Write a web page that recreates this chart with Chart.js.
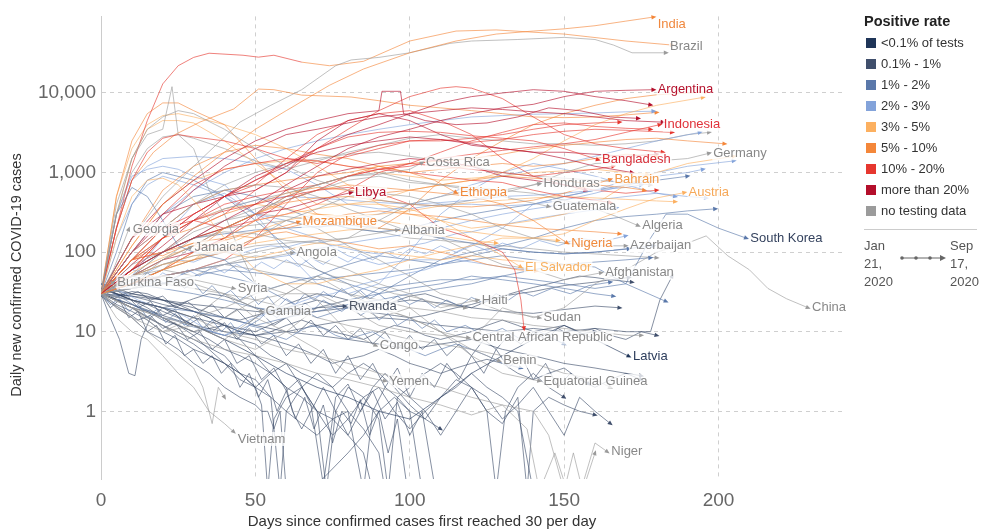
<!DOCTYPE html>
<html>
<head>
<meta charset="utf-8">
<script src="https://cdn.jsdelivr.net/npm/chart.js@4"></script>
<style>
  html, body { margin: 0; padding: 0; background: #fff; }
  body { width: 982px; height: 532px; position: relative; overflow: hidden; font-family: "Liberation Sans", Arial, sans-serif; }
  #chart { position: absolute; left: 0; top: 0; }
  #legend { position: absolute; left: 864px; top: 11px; width: 118px; color: #333; }
  #legend .lt { font-weight: bold; font-size: 14.5px; line-height: 20px; margin-bottom: 1px; color: #222; }
  #legend .li { font-size: 13px; line-height: 21px; height: 21px; white-space: nowrap; }
  #legend .li span { display: inline-block; width: 10px; height: 10px; margin: 0 5px 0 2px; vertical-align: -1px; }
  #legend hr { border: 0; border-top: 1px solid #ccc; margin: 8px 0 0 0; width: 113px; }
  #legend .tl { position: relative; height: 60px; font-size: 13px; line-height: 18px; color: #555; }
  #legend .tl .a { position: absolute; left: 0; top: 7px; }
  #legend .tl .b { position: absolute; left: 86px; top: 7px; }
  #legend .tl svg { position: absolute; left: 36px; top: 23px; }
</style>
</head>
<body>
<canvas id="chart" width="982" height="532"></canvas>
<div id="legend">
  <div class="lt">Positive rate</div>
  <div class="li"><span style="background:#1f3558"></span>&lt;0.1% of tests</div>
  <div class="li"><span style="background:#404f6c"></span>0.1% - 1%</div>
  <div class="li"><span style="background:#5a78aa"></span>1% - 2%</div>
  <div class="li"><span style="background:#83a3da"></span>2% - 3%</div>
  <div class="li"><span style="background:#fcb060"></span>3% - 5%</div>
  <div class="li"><span style="background:#f4873a"></span>5% - 10%</div>
  <div class="li"><span style="background:#e6372f"></span>10% - 20%</div>
  <div class="li"><span style="background:#b40f2b"></span>more than 20%</div>
  <div class="li"><span style="background:#9b9b9b"></span>no testing data</div>
  <hr>
  <div class="tl">
    <div class="a">Jan<br>21,<br>2020</div>
    <svg width="50" height="10">
      <line x1="2" y1="5" x2="44" y2="5" stroke="#666" stroke-width="1"/>
      <circle cx="2" cy="5" r="1.8" fill="#666"/><circle cx="16" cy="5" r="1.8" fill="#666"/><circle cx="30" cy="5" r="1.8" fill="#666"/>
      <path d="M40 2 L46 5 L40 8 Z" fill="#666"/>
    </svg>
    <div class="b">Sep<br>17,<br>2020</div>
  </div>
</div>
<script>
// day since first 30/day, 7-day avg of new cases
const dayTicks = [0, 50, 100, 150, 200];
const caseTicks = [1, 10, 100, 1000, 10000];

// labelled countries, [day, cases]
const india = [[0,30],[10,120],[20,400],[30,900],[40,1800],[50,3500],[60,6000],[74,12500],[85,20000],[100,32000],[115,45000],[128,55000],[140,60000],[150,64000],[160,70000],[170,80000],[179,90000]];
const brazil = [[0,30],[10,150],[20,500],[30,1200],[40,2800],[45,4300],[55,7000],[65,11000],[76,22000],[81,26000],[90,28000],[100,32000],[113,42000],[120,45000],[135,47000],[150,50000],[160,47000],[166,40000],[172,32000],[183,32000]];
const argentina = [[0,30],[10,60],[20,100],[30,150],[40,250],[50,400],[60,700],[70,1200],[80,2000],[90,2800],[100,3500],[110,4500],[120,5500],[130,6500],[140,7200],[150,9000],[160,10500],[170,10800],[179,11000]];
const indonesia = [[0,30],[10,60],[20,150],[30,250],[40,330],[50,400],[60,500],[70,600],[80,900],[90,1100],[100,1200],[110,1500],[120,1700],[130,1900],[140,2100],[150,2300],[160,2600],[170,3200],[181,4000]];
const germany = [[0,30],[5,300],[10,1500],[15,3500],[20,5000],[25,6000],[30,5500],[40,3500],[50,2000],[60,1200],[70,800],[80,600],[90,450],[100,400],[110,380],[120,450],[130,550],[140,700],[150,1000],[160,1300],[170,1350],[180,1400],[190,1500],[197,1750]];
const bangladesh = [[0,30],[10,60],[20,150],[30,300],[40,500],[50,800],[60,1300],[70,2000],[80,2800],[90,3200],[100,3300],[110,3200],[120,2900],[130,2700],[140,2500],[150,2000],[161,1450]];
const bahrain = [[0,30],[10,40],[20,60],[30,100],[40,200],[50,300],[60,420],[70,480],[80,500],[90,450],[100,400],[110,380],[120,370],[130,400],[140,450],[150,550],[165,820]];
const austria = [[0,30],[5,150],[10,500],[15,800],[20,850],[25,700],[30,450],[40,150],[50,60],[60,40],[70,40],[80,50],[90,60],[100,80],[110,100],[120,120],[130,150],[140,150],[150,170],[160,250],[170,350],[180,480],[189,560]];
const algeria = [[0,30],[10,70],[20,100],[30,150],[40,180],[50,170],[60,140],[70,130],[80,150],[90,250],[100,400],[110,500],[120,600],[130,600],[140,550],[150,450],[160,350],[167,280],[174,215]];
const southKorea = [[0,30],[5,300],[10,650],[15,500],[20,250],[25,120],[30,100],[40,80],[50,40],[60,25],[70,15],[80,20],[90,35],[100,40],[110,45],[120,45],[130,50],[140,45],[150,40],[160,35],[170,40],[178,150],[183,300],[190,300],[200,200],[209,150]];
const china = [[0,30],[5,400],[10,1500],[15,3000],[20,3500],[23,12000],[25,3000],[30,2000],[35,600],[40,300],[45,100],[50,40],[60,30],[70,50],[80,40],[90,20],[100,15],[110,10],[120,8],[130,20],[140,15],[150,20],[160,40],[170,60],[180,100],[190,130],[196,160],[203,90],[210,60],[216,35],[222,26],[229,20]];
const costaRica = [[0,30],[10,50],[20,100],[30,200],[40,350],[50,450],[60,550],[70,700],[80,900],[90,950],[100,1100],[104,1330]];
const honduras = [[0,30],[10,60],[20,100],[30,150],[40,250],[50,350],[60,450],[70,600],[80,800],[90,900],[100,750],[110,700],[120,650],[130,600],[142,720]];
const guatemala = [[0,30],[10,50],[20,80],[30,120],[40,200],[50,300],[60,500],[70,700],[80,900],[90,1000],[100,800],[110,700],[120,600],[130,500],[145,375]];
const libya = [[0,30],[10,60],[20,100],[30,150],[40,200],[50,300],[60,350],[70,450],[81,560]];
const ethiopia = [[0,30],[10,80],[20,100],[30,150],[40,200],[50,300],[60,500],[70,700],[80,900],[90,1200],[100,1000],[108,800],[115,560]];
const mozambique = [[0,30],[10,40],[20,60],[30,80],[40,100],[50,150],[57,200],[64,240]];
const albania = [[0,30],[10,50],[20,70],[30,90],[40,100],[50,120],[60,130],[70,140],[80,150],[96,190]];
const nigeria = [[0,30],[10,80],[20,150],[30,200],[40,300],[50,400],[60,550],[70,650],[80,600],[90,550],[100,600],[110,550],[120,500],[130,400],[140,250],[151,130]];
const azerbaijan = [[0,30],[10,50],[20,60],[30,80],[40,100],[50,150],[60,250],[70,350],[80,500],[90,550],[100,500],[110,400],[120,300],[130,200],[140,150],[150,130],[160,120],[170,120]];
const elSalvador = [[0,30],[10,50],[20,70],[30,80],[40,150],[50,250],[60,300],[70,350],[80,400],[90,400],[100,350],[110,250],[120,150],[130,90],[136,65]];
const afghanistan = [[0,30],[10,100],[20,200],[30,400],[40,600],[50,700],[60,650],[70,500],[80,350],[90,250],[100,180],[110,150],[120,100],[130,70],[140,60],[150,45],[162,55]];
const georgia = [[0,30],[4,60],[9,195]];
const jamaica = [[0,30],[10,40],[20,60],[29,115]];
const angola = [[0,30],[10,40],[20,50],[30,60],[40,70],[50,80],[62,98]];
const burkinaFaso = [[0,32],[4,42]];
const syria = [[0,30],[10,35],[20,40],[30,45],[43,35]];
const gambia = [[0,30],[10,45],[20,50],[30,40],[40,30],[52,18]];
const rwanda = [[0,35],[10,25],[20,20],[30,15],[40,12],[50,10],[60,15],[70,20],[79,21]];
const haiti = [[0,30],[10,35],[20,50],[30,60],[40,80],[50,100],[60,120],[70,80],[80,60],[90,40],[100,30],[110,20],[122,25]];
const sudan = [[0,30],[10,40],[20,80],[30,150],[40,200],[50,220],[60,250],[70,200],[80,120],[90,80],[100,50],[110,30],[120,25],[130,18],[142,15]];
const centralAfrica = [[0,30],[10,20],[20,15],[30,10],[40,15],[50,25],[60,30],[70,30],[80,20],[90,12],[100,10],[110,9],[119,8.4]];
const congo = [[0,30],[10,25],[20,20],[30,15],[40,20],[50,30],[60,40],[70,25],[80,10],[89,6.7]];
const benin = [[0,30],[10,15],[20,10],[30,12],[40,8],[50,15],[60,30],[70,50],[80,30],[90,20],[100,15],[110,10],[120,6],[129,4.3]];
const latvia = [[0,35],[5,30],[10,25],[20,20],[30,12],[40,8],[50,5],[60,3],[70,2],[80,1.5],[90,1],[100,0.8],[110,1.5],[120,3],[130,5],[140,8],[150,12],[160,8],[171,4.9]];
const yemen = [[0,30],[10,20],[20,15],[30,12],[40,8],[50,6],[60,10],[70,6],[80,3],[92,2.4]];
const eqGuinea = [[0,30],[10,20],[20,10],[30,15],[40,30],[50,15],[60,10],[70,20],[80,25],[90,15],[100,20],[110,10],[120,5],[130,3],[142,2.4]];
const vietnam = [[0,30],[5,15],[10,10],[15,8],[20,5],[25,3],[30,2],[35,1],[40,0.7],[43,0.55]];
const niger = [[0,30],[10,20],[20,12],[30,8],[40,6],[50,5],[60,4],[70,3],[80,2.5],[90,2],[100,1.5],[110,1.2],[120,0.9],[130,1.2],[138,0.6],[142,0.1],[147,0.3],[151,0.1],[156,0.12],[160,0.4],[164,0.31]];
const usa = [[0,30],[5,200],[10,1200],[15,4500],[20,13000],[25,22000],[30,28000],[35,31600],[46,29800],[51,28200],[56,29800],[65,24400],[74,22000],[85,25000],[100,45000],[115,60000],[128,62000],[150,55000],[170,45000],[185,40000]];

// unlabelled countries grouped by positive rate
const over20 = [
  [[0,30],[10,80],[20,150],[30,300],[40,500],[50,800],[60,1200],[70,2000],[80,3000],[90,4000],[100,5500],[110,7500],[120,9000],[130,10000],[140,11000],[150,10500],[160,9000],[170,8000],[178,7100]],
  [[0,30],[10,100],[20,250],[30,600],[40,1200],[50,2000],[60,3000],[70,3500],[80,4200],[90,5000],[100,5500],[110,6000],[120,6500],[130,6200],[140,5800],[150,5500],[160,5000],[170,4500],[182,4300]],
  [[0,30],[10,150],[20,400],[30,800],[40,1500],[50,2500],[60,3500],[70,4500],[80,5500],[90,6000],[91,10500],[97,10500],[98,5500],[105,4500],[115,4000],[125,4200],[135,5000],[145,6500],[155,6000],[165,5000],[174,4800]],
  [[0,30],[10,150],[20,300],[30,400],[40,500],[50,600],[60,1000],[70,2500],[80,4500],[90,5500],[100,4500],[110,3000],[120,2200],[130,2000],[140,1800],[150,1800],[160,1700],[170,1600],[180,1700]],
  [[0,30],[10,60],[20,120],[30,250],[40,500],[50,900],[60,1300],[70,1800],[80,2200],[90,2500],[100,2800],[110,2600],[120,2300],[130,2000],[140,1800],[150,1500],[160,1200],[172,1000]],
  [[0,30],[10,50],[20,80],[30,100],[40,150],[50,300],[60,600],[70,900],[80,1100],[90,1300],[100,1500],[110,1400],[120,1200],[130,900],[140,800],[150,700],[157,600]]
];
const rate10to20 = [
  [[0,30],[5,200],[10,800],[15,1800],[20,2700],[25,3000],[30,2800],[40,2500],[50,2000],[60,1500],[70,1300],[80,1600],[90,2000],[100,2500],[110,2600],[120,2400],[130,2600],[140,3000],[150,3300],[160,3500],[170,3400],[185,3200]],
  [[0,30],[10,80],[20,100],[30,200],[40,300],[50,600],[60,1000],[70,2000],[80,3500],[90,6000],[100,9000],[110,11500],[115,12000],[120,11500],[130,8500],[140,5000],[150,3000],[160,2300],[170,2000],[182,1800]],
  [[0,30],[10,100],[20,200],[30,250],[40,200],[50,250],[60,300],[70,400],[80,600],[90,1000],[100,1300],[110,1800],[120,2500],[130,3200],[140,4000],[150,4200],[160,3800],[170,3600],[178,3500]],
  [[0,30],[10,40],[20,50],[30,60],[40,80],[50,150],[60,400],[70,1000],[80,1700],[90,2200],[100,2500],[110,2500],[120,2700],[130,3000],[140,3500],[150,4000],[160,4200],[168,4300]],
  [[0,30],[10,80],[20,200],[30,300],[40,500],[50,700],[60,1500],[70,3000],[80,4500],[90,5500],[100,6000],[110,4500],[120,3000],[130,1500],[140,900],[150,700],[160,600],[170,550],[180,600]],
  [[0,30],[10,70],[20,150],[30,250],[40,400],[50,500],[60,600],[70,700],[80,900],[90,1100],[100,1300],[110,1200],[120,1100],[130,1000],[140,900],[150,1000],[160,1100],[166,1200]],
  [[0,30],[10,40],[20,60],[30,100],[40,150],[50,250],[60,450],[70,600],[80,650],[90,550],[100,400],[110,200],[120,150],[130,100],[134,60],[136,25],[137,11]],
  [[0,30],[10,100],[20,300],[30,700],[40,1100],[50,1300],[60,1500],[70,1400],[80,1200],[90,1100],[100,1000],[110,900],[120,800],[130,750],[140,600],[150,500],[160,450],[165,420]]
];
const rate5to10 = [
  [[0,30],[5,200],[10,800],[17,1800],[24,3000],[32,4300],[43,6300],[51,11200],[56,11000],[65,9400],[81,8900],[90,8000],[100,7000],[110,6500],[120,6000],[130,5500],[140,5000],[150,4900],[160,5000],[170,5300],[180,5700]],
  [[0,30],[5,500],[10,2500],[15,5500],[20,7500],[25,7500],[30,6000],[40,4000],[50,1500],[60,600],[70,300],[80,250],[90,200],[100,350],[110,800],[120,1500],[130,2500],[140,4000],[150,5500],[160,7000],[170,8500],[180,9500],[196,10300]],
  [[0,30],[10,150],[20,600],[30,1200],[40,1800],[50,2200],[60,2000],[70,1700],[80,1500],[90,1200],[100,1000],[110,1100],[120,1200],[130,1300],[140,1200],[150,1300],[160,1500],[170,1700],[180,1600]],
  [[0,30],[10,80],[20,200],[30,400],[40,600],[50,700],[60,800],[70,900],[80,1000],[90,1200],[100,1300],[110,1400],[120,1500],[130,1700],[140,2000],[150,2200],[160,2400],[170,2600],[180,2700],[190,2500],[202,2300]],
  [[0,30],[10,50],[20,80],[30,120],[40,200],[50,300],[60,450],[70,600],[80,700],[90,650],[100,600],[110,700],[120,800],[130,900],[140,850],[150,800],[160,700],[170,650],[176,600]],
  [[0,30],[10,60],[20,100],[30,130],[40,150],[50,180],[60,200],[70,250],[80,300],[90,330],[100,300],[110,280],[120,250],[130,220],[140,200],[150,190],[160,180],[168,170]],
  [[0,30],[5,50],[10,80],[15,100],[20,90],[25,110],[30,130],[35,120],[40,140],[45,160],[50,150],[55,170],[60,180],[65,160],[70,150],[75,140],[80,130],[85,120],[90,110],[95,115],[100,120],[105,110],[110,100],[115,90],[120,80],[125,70],[130,65],[135,60],[141,58]]
];
const rate3to5 = [
  [[0,30],[5,300],[10,1500],[15,3500],[20,4500],[25,4500],[30,4200],[40,2500],[50,1300],[60,700],[70,400],[80,400],[90,450],[100,600],[110,700],[120,800],[130,1000],[140,1500],[150,2500],[160,4000],[170,5500],[180,7000],[195,8800]],
  [[0,30],[5,500],[10,2000],[15,4000],[20,5200],[25,5500],[30,5000],[40,4000],[50,3000],[60,2000],[70,1200],[80,700],[90,400],[100,300],[110,250],[120,200],[130,220],[140,250],[150,300],[160,400],[170,700],[180,1000],[190,1300],[205,1600]],
  [[0,30],[10,120],[20,400],[30,800],[40,1100],[50,1300],[60,1400],[70,1400],[80,1200],[90,1000],[100,900],[110,800],[120,850],[130,900],[140,1000],[150,1050],[160,1100],[170,1000],[177,950]],
  [[0,30],[10,60],[20,150],[30,250],[40,350],[50,400],[60,350],[70,300],[80,280],[90,300],[100,330],[110,380],[120,420],[130,450],[140,480],[150,500],[160,480],[170,460],[180,440],[186,430]],
  [[0,30],[10,40],[20,60],[30,80],[40,120],[50,180],[60,250],[70,300],[80,280],[90,250],[100,220],[110,200],[120,180],[130,160],[140,150],[148,140]],
  [[0,30],[10,50],[20,70],[30,90],[40,110],[50,130],[60,150],[70,170],[80,190],[90,200],[100,180],[110,160],[120,140],[128,130]],
  [[0,30],[5,40],[10,55],[15,70],[20,85],[25,100],[30,120],[35,110],[40,100],[45,90],[50,85],[55,95],[60,105],[65,120],[70,130],[75,125],[80,115],[85,105],[90,100],[95,95],[100,90],[105,85],[110,80],[115,85],[120,90],[125,85],[130,80],[140,75],[150,70],[157,68]]
];
const rate2to3 = [
  [[0,30],[5,300],[10,900],[15,1100],[20,1200],[25,1100],[30,900],[40,700],[50,300],[60,200],[70,150],[80,90],[90,70],[100,80],[110,80],[120,120],[130,200],[140,400],[150,500],[160,600],[170,800],[180,1000],[190,1200],[205,1400]],
  [[0,30],[5,200],[10,800],[15,1200],[20,1500],[30,1600],[40,1500],[50,1300],[60,1100],[70,700],[80,400],[90,350],[100,350],[110,400],[120,400],[130,380],[140,400],[150,450],[160,550],[170,700],[180,900],[190,1000],[195,1100]],
  [[0,30],[10,50],[20,150],[30,400],[40,550],[50,300],[60,100],[70,40],[80,30],[90,40],[100,100],[110,300],[120,600],[130,1000],[140,1300],[150,1100],[160,900],[170,700],[180,550],[190,500],[196,480]],
  [[0,30],[10,70],[20,150],[30,250],[40,350],[50,450],[60,500],[70,480],[80,450],[90,420],[100,400],[110,420],[120,450],[130,500],[140,520],[150,550],[160,600],[170,650],[175,700]],
  [[0,30],[10,40],[20,50],[30,60],[40,70],[50,80],[60,90],[70,110],[80,130],[90,150],[100,170],[110,200],[120,250],[130,300],[140,350],[150,400],[160,450],[170,500],[180,550],[186,500]],
  [[0,30],[5,150],[10,400],[15,700],[20,900],[30,700],[40,500],[50,300],[60,250],[70,200],[80,250],[90,300],[100,400],[110,500],[120,700],[130,900],[140,1100],[150,1300],[160,1600],[170,2000],[180,2500],[194,3200]],
  [[0,30],[10,100],[20,300],[30,600],[40,1000],[50,1500],[60,2000],[70,2500],[80,3000],[90,3500],[100,4000],[110,4500],[120,5000],[130,5200],[140,5400],[150,5500],[160,5600],[170,5800],[179,5900]],
  [[0,30],[5,45],[10,60],[15,55],[20,70],[25,80],[30,75],[35,90],[40,100],[45,95],[50,110],[55,120],[60,115],[65,130],[70,140],[75,120],[80,110],[85,100],[90,95],[95,105],[100,120],[105,130],[110,150],[115,170],[120,180],[125,200],[130,220],[135,240],[140,260],[145,280],[150,300],[155,320],[160,340],[167,360]],
  [[0,30],[4,35],[8,30],[12,25],[16,22],[20,20],[24,18],[28,15],[32,12],[36,10],[40,9],[44,11],[48,14],[52,16],[56,18],[60,20],[65,24],[70,28],[75,30],[80,35],[85,40],[90,45],[95,50],[100,55],[105,60],[110,70],[115,80],[120,75],[125,70],[130,65],[138,60]],
  [[0,30],[4,40],[8,35],[12,48],[16,40],[20,55],[24,45],[28,60],[32,50],[36,65],[40,55],[44,70],[48,58],[52,75],[56,62],[60,80],[64,66],[68,85],[72,70],[76,90],[80,75],[84,95],[88,80],[92,100],[96,85],[100,110],[105,95],[110,120],[115,100],[120,125],[125,105],[130,130],[136,110],[142,140],[148,120],[155,150],[162,135],[170,160]]
];
const rate1to2 = [
  [[0,30],[5,100],[10,400],[15,800],[20,1000],[30,800],[40,500],[50,250],[60,120],[70,60],[80,40],[90,30],[100,50],[110,80],[120,100],[130,120],[140,150],[150,200],[160,250],[170,280],[180,300],[190,330],[199,350]],
  [[0,30],[10,60],[20,100],[30,150],[40,170],[50,190],[60,200],[70,210],[80,220],[90,200],[100,180],[110,150],[120,130],[130,110],[140,100],[150,95],[160,100],[170,110],[179,120]],
  [[0,30],[10,35],[20,40],[30,50],[40,60],[50,55],[60,50],[70,45],[80,50],[90,55],[100,60],[110,70],[120,80],[130,90],[140,80],[150,70],[160,75],[170,80],[178,85]],
  [[0,35],[10,40],[20,35],[30,30],[40,25],[50,20],[60,18],[70,20],[80,25],[90,30],[100,35],[110,40],[120,50],[130,45],[140,40],[150,35],[160,30],[166,28]],
  [[0,30],[10,100],[20,300],[30,500],[40,600],[50,500],[60,350],[70,250],[80,200],[90,180],[100,200],[110,250],[120,300],[130,350],[140,400],[150,500],[160,600],[170,700],[180,800],[190,900]],
  [[0,30],[10,25],[20,20],[30,18],[40,15],[50,12],[60,15],[70,18],[80,22],[90,25],[100,30],[110,35],[120,40],[130,50],[140,60],[150,70],[160,65],[170,40],[183,24]],
  [[0,35],[5,40],[10,50],[15,45],[20,40],[25,50],[30,60],[35,55],[40,50],[45,45],[50,40],[55,35],[60,40],[65,45],[70,50],[75,60],[80,70],[85,80],[90,90],[95,85],[100,80],[105,75],[110,70],[115,80],[120,90],[125,100],[130,110],[135,105],[140,100],[150,95],[160,100],[171,110]],
  [[0,40],[4,30],[8,25],[12,20],[16,18],[20,15],[24,14],[28,12],[32,11],[36,10],[40,9],[44,10],[48,12],[52,11],[56,9],[60,8],[64,10],[68,12],[72,11],[76,9],[80,8],[84,9],[88,10],[92,8],[96,7],[100,6],[105,5],[110,6],[115,7],[120,6],[125,5],[130,4],[136,3.5]],
  [[0,35],[3,45],[6,38],[9,50],[12,42],[15,55],[18,45],[21,40],[24,48],[27,35],[30,42],[33,30],[36,38],[39,28],[42,33],[45,25],[48,30],[51,22],[54,28],[57,20],[60,26],[63,22],[66,30],[69,25],[72,32],[75,27],[78,35],[81,28],[84,33],[87,26],[90,30],[93,24],[96,28],[100,22],[104,26],[108,20],[112,25],[116,21],[120,27],[124,23],[128,30],[132,25],[136,32],[140,28],[146,35],[152,30],[158,38],[165,42]],
  [[0,30],[3,22],[6,26],[9,18],[12,22],[15,15],[18,19],[21,13],[24,17],[27,12],[30,16],[33,11],[36,14],[39,10],[42,13],[45,9],[48,12],[51,14],[54,18],[57,15],[60,20],[63,17],[66,23],[69,19],[72,25],[75,21],[78,18],[81,22],[84,16],[87,19],[90,14],[93,17],[96,12],[100,15],[104,11],[108,14],[112,10],[118,12],[124,9],[130,11],[136,8],[142,10],[150,7]]
];
const rate01to1 = [
  [[0,35],[5,25],[10,20],[15,15],[20,12],[25,9],[30,7],[35,5],[40,4],[45,3],[50,2.5],[55,1.5],[60,1],[65,0.7],[70,0.5],[75,0.8],[80,1],[85,0.6],[90,0.3],[92,0.1]],
  [[0,40],[5,30],[10,25],[15,20],[20,15],[25,12],[30,10],[35,8],[40,6],[45,5],[50,4],[55,3],[60,2],[62,1],[65,0.6],[68,1],[72,2],[76,1],[80,0.5],[84,1],[88,2],[92,3],[96,2],[100,1.5],[105,1],[110,0.5],[115,1],[120,2],[125,1.5],[130,0.8],[135,1.2],[140,2],[145,1],[150,0.5],[155,1.5],[160,1],[165,0.7]],
  [[0,30],[5,20],[10,15],[15,10],[20,8],[25,6],[30,4],[35,3],[40,2],[45,1.5],[50,1.2],[52,1],[54,1],[56,0.6],[58,1],[60,0.1],[68,0.1],[80,0.3],[85,0.5],[90,1],[95,1.5],[100,1],[105,0.8],[110,0.6]],
  [[0,35],[5,30],[10,25],[15,22],[20,18],[25,15],[30,12],[35,10],[40,9],[45,8],[50,7],[55,5],[60,4],[65,3],[70,2.5],[75,2],[80,3],[85,4],[90,3],[95,2],[100,1.2],[105,0.8],[110,1.5],[115,2.5],[120,2],[125,1],[130,0.7],[135,1.5],[138,0.1],[140,1],[145,1.5],[150,1.2],[155,1],[160,0.9]],
  [[0,30],[5,22],[10,18],[15,14],[20,10],[25,8],[30,6],[35,5],[40,4],[45,2.5],[50,2],[55,3],[60,4],[65,2],[70,1],[73,0.1],[76,1],[80,2],[85,1.5],[90,0.8],[93,0.1],[96,1.5],[100,2],[105,3],[110,4],[115,3],[120,2],[125,1],[128,0.1],[131,1],[135,2],[140,3],[145,2],[150,1.5]],
  [[0,40],[5,35],[10,30],[15,28],[20,25],[25,20],[30,18],[35,15],[40,12],[45,10],[50,9],[55,8],[60,7],[65,6],[70,5],[75,4],[80,4.5],[85,5],[90,6],[95,5],[100,4],[105,3.5],[110,3],[115,3.5],[120,4],[125,4.5],[130,4],[135,3],[140,2.5],[145,3],[150,3.5],[155,2.5],[160,2],[165,2.5],[170,3],[175,2.5]],
  [[0,30],[5,25],[10,22],[15,18],[20,14],[25,12],[30,10],[35,11],[40,12],[45,10],[50,9],[55,10],[60,12],[65,14],[70,12],[75,10],[80,9],[85,8],[90,10],[95,12],[100,11],[105,9],[110,8],[115,9],[120,10],[125,12],[130,14],[135,12],[140,10],[145,11],[150,12],[155,10],[160,11],[165,9],[170,8],[175,10],[180,9]],
  [[0,35],[5,30],[10,28],[15,25],[20,22],[25,20],[30,18],[35,16],[40,15],[45,14],[50,16],[55,18],[60,20],[65,22],[70,25],[75,22],[80,20],[85,18],[90,17],[95,16],[100,15],[105,16],[110,18],[115,20],[120,22],[125,25],[130,28],[135,30],[140,32],[145,35],[150,38],[155,40],[160,42],[165,45],[171,48]],
  [[0,30],[10,22],[20,16],[30,12],[40,10],[50,9],[60,10],[70,12],[80,14],[90,15],[100,14],[110,12],[120,11],[130,10],[140,11],[150,10],[160,11],[170,10],[178,10],[181,25],[185,50]],
  [[0,30],[3,15],[6,8],[9,3],[11,2.8],[13,8],[16,15],[20,20],[25,22],[30,18],[35,15],[40,12],[45,8],[50,5],[55,3],[60,2],[65,1.5],[70,1],[75,0.8],[80,0.5],[85,0.3],[88,0.1]],
  [[0,30],[5,25],[10,20],[15,18],[20,15],[25,12],[30,9],[35,6],[40,4],[45,3],[50,2],[55,1.5],[58,0.1],[60,1],[65,2],[70,3],[75,2],[80,1],[85,0.1],[88,1],[92,2],[96,1.5],[100,1],[104,0.1]],
  [[0,35],[10,30],[20,25],[30,20],[40,15],[50,12],[60,10],[70,9],[80,8],[90,7],[100,6],[110,7],[120,8],[130,6],[140,5],[150,4],[160,3.5],[170,3],[175,2.8]],
  [[0,30],[10,28],[20,25],[30,22],[40,20],[50,18],[60,17],[70,18],[80,20],[90,22],[100,25],[110,23],[120,20],[130,18],[140,17],[150,19],[160,21],[168,20]],
  [[0,30],[10,20],[20,12],[30,8],[40,5],[45,3],[50,2],[52,1.2],[54,0.1],[56,0.8],[60,1.5],[65,2],[70,1],[75,0.5],[80,0.8],[85,1.5],[90,2],[95,1],[100,0.6],[105,1],[110,1.5],[115,2],[120,3],[125,2],[130,1.5],[135,1],[140,0.1]],
  [[0,30],[5,28],[10,32],[15,30],[20,25],[25,22],[30,26],[35,30],[40,28],[45,24],[50,20],[55,18],[60,22],[65,26],[70,30],[75,28],[80,25],[85,22],[90,20],[95,24],[100,28],[105,30],[110,26],[115,22],[120,20],[125,24],[130,28],[135,32],[140,36],[145,40],[150,45],[155,50],[160,48],[165,45],[172,42]],
  [[0,30],[3,20],[6,25],[9,15],[12,18],[15,10],[18,12],[21,7],[24,9],[27,5],[30,6],[33,4],[36,5],[39,3],[42,4],[45,2],[48,3],[51,1.5],[54,2.5],[57,1],[60,1.8],[63,0.8],[66,1.5],[69,0.6],[72,1.2],[75,0.4],[78,1],[81,0.7],[84,1.4],[87,0.5],[90,1],[93,0.3],[96,0.8],[99,0.12]],
  [[0,32],[4,26],[8,30],[12,20],[16,24],[20,16],[24,19],[28,12],[32,15],[36,10],[40,13],[44,8],[48,11],[52,7],[56,9],[60,5],[64,7],[68,4],[72,6],[76,3],[80,5],[84,2.5],[88,4],[92,2],[96,3.5],[100,1.5],[104,3],[108,2],[112,4],[116,2.5],[120,5],[124,3],[128,6],[132,3.5],[136,5],[140,2.5],[144,4],[148,2],[152,3],[158,2.2]],
  [[0,30],[4,35],[8,28],[12,32],[16,25],[20,28],[24,20],[28,24],[32,18],[36,22],[40,15],[44,19],[48,13],[52,17],[56,12],[60,15],[64,10],[68,14],[72,9],[76,12],[80,8],[84,11],[88,7],[92,10],[96,6],[100,9],[104,6],[108,8],[112,5],[116,7],[120,5],[124,8],[128,6],[132,9],[136,7],[140,10],[144,8],[148,11],[152,9],[160,10]],
  [[0,28],[4,22],[8,18],[12,14],[16,16],[20,11],[24,13],[28,8],[32,10],[36,6],[40,8],[44,4],[48,5],[52,2.5],[56,3.5],[60,1.8],[64,2.5],[68,1.2],[72,0.12],[76,1.5],[80,2.2],[84,1],[88,1.8],[92,0.8],[96,1.3],[100,0.5],[104,1],[108,0.12]]
];
const noTesting = [
  [[0,30],[5,20],[10,15],[15,10],[20,7],[25,5],[30,3.5],[33,2],[36,0.7],[38,2],[40,1.5]],
  [[0,30],[10,25],[20,20],[30,15],[40,10],[50,8],[60,6],[70,5],[80,4],[90,3],[100,2.5],[110,2],[120,1.5],[130,1.2],[140,1],[145,0.5],[150,0.1],[153,0.3],[156,0.1],[160,0.3]],
  [[0,30],[10,40],[20,50],[30,60],[40,70],[50,60],[60,50],[70,40],[80,30],[90,25],[100,20],[110,18],[120,15],[130,14],[140,12],[150,11],[160,10],[170,9],[175,9]],
  [[0,30],[10,50],[20,100],[30,180],[40,250],[50,300],[60,280],[70,250],[80,200],[90,180],[100,150],[110,140],[120,130],[130,120],[140,110],[150,100],[160,95],[170,90],[180,85]],
  [[0,30],[5,300],[10,1000],[15,2000],[20,2800],[25,3000],[30,2700],[40,2000],[50,1400],[60,1100],[70,1400],[80,1800],[90,2200],[100,2700],[110,3000],[120,2700],[130,2500],[140,2300],[150,2300],[160,2200],[170,2300],[180,2500],[190,3000],[197,3200]],
  [[0,30],[10,80],[20,200],[30,400],[40,700],[50,1000],[60,1300],[70,1500],[80,1700],[90,1800],[100,1600],[110,1400],[120,1200],[130,1000],[140,900],[150,850],[160,800],[170,750],[178,700]],
  [[0,30],[10,35],[20,40],[30,35],[40,30],[50,25],[60,20],[70,15],[80,12],[90,10],[100,8],[110,7],[120,6],[130,5],[140,4],[150,3],[160,2.5],[165,2]],
  [[0,30],[5,35],[10,40],[15,50],[20,60],[25,55],[30,50],[35,60],[40,70],[45,80],[50,90],[55,85],[60,75],[65,70],[70,60],[75,50],[80,45],[85,40],[90,35],[95,30],[100,28],[105,25],[110,22],[118,20]]
];

const rateColors = {
  '<0.1': '#1f3558', '0.1-1': '#404f6c', '1-2': '#5a78aa', '2-3': '#83a3da',
  '3-5': '#fcb060', '5-10': '#f4873a', '10-20': '#e6372f', '>20': '#b40f2b', 'none': '#9b9b9b'
};
const GRAY = '#888888';

// name, series, rate, label colour
const labelled = [
  ['India', india, '5-10', '#f0883e'],
  ['Brazil', brazil, 'none', GRAY],
  ['Argentina', argentina, '>20', '#b5122d'],
  ['Indonesia', indonesia, '10-20', '#e0323a'],
  ['Germany', germany, 'none', GRAY],
  ['Bangladesh', bangladesh, '10-20', '#d8303a'],
  ['Bahrain', bahrain, '5-10', '#f29a4a'],
  ['Austria', austria, '3-5', '#f6a95a'],
  ['Algeria', algeria, 'none', GRAY],
  ['South Korea', southKorea, '1-2', '#34425e'],
  ['China', china, 'none', GRAY],
  ['Costa Rica', costaRica, 'none', GRAY],
  ['Honduras', honduras, 'none', GRAY],
  ['Guatemala', guatemala, 'none', GRAY],
  ['Libya', libya, '>20', '#b5122d'],
  ['Ethiopia', ethiopia, '5-10', '#f08a3c'],
  ['Mozambique', mozambique, '5-10', '#f08a3c'],
  ['Albania', albania, 'none', GRAY],
  ['Nigeria', nigeria, '5-10', '#f08a3c'],
  ['Azerbaijan', azerbaijan, 'none', GRAY],
  ['El Salvador', elSalvador, '3-5', '#f7b060'],
  ['Afghanistan', afghanistan, 'none', GRAY],
  ['Georgia', georgia, 'none', GRAY],
  ['Jamaica', jamaica, 'none', GRAY],
  ['Angola', angola, 'none', GRAY],
  ['Burkina Faso', burkinaFaso, 'none', GRAY],
  ['Syria', syria, 'none', GRAY],
  ['Gambia', gambia, 'none', GRAY],
  ['Rwanda', rwanda, '0.1-1', '#4b5363'],
  ['Haiti', haiti, 'none', GRAY],
  ['Sudan', sudan, 'none', GRAY],
  ['Central African Republic', centralAfrica, 'none', GRAY],
  ['Congo', congo, 'none', GRAY],
  ['Benin', benin, 'none', GRAY],
  ['Latvia', latvia, '<0.1', '#2d3d5c'],
  ['Yemen', yemen, 'none', GRAY],
  ['Equatorial Guinea', eqGuinea, 'none', GRAY],
  ['Vietnam', vietnam, 'none', GRAY],
  ['Niger', niger, 'none', GRAY]
];
// vertical nudges for a few labels
const labelNudge = { 'India': 7, 'Brazil': -6, 'Vietnam': 7 };

function withAlpha(hex, a) {
  const n = parseInt(hex.slice(1), 16);
  return `rgba(${n >> 16},${(n >> 8) & 255},${n & 255},${a})`;
}

function lineSet(points, rate, extra) {
  const col = rateColors[rate];
  return Object.assign({
    data: points.map(p => ({ x: p[0], y: p[1] })),
    borderColor: withAlpha(col, 0.75),
    endColor: col,
    borderWidth: 0.85,
    pointRadius: 0,
    tension: 0,
    fill: false
  }, extra || {});
}

const datasets = [];
labelled.forEach(([name, pts, rate, lc]) => datasets.push(lineSet(pts, rate, { label: name, labelColor: lc })));
// US: red early on, orange later
datasets.push(lineSet(usa, '10-20', {
  label: 'United States',
  segment: { borderColor: c => c.p0.parsed.x >= 65 ? withAlpha(rateColors['5-10'], 0.75) : undefined },
  endColor: rateColors['5-10']
}));
[[over20, '>20'], [rate10to20, '10-20'], [rate5to10, '5-10'], [rate3to5, '3-5'],
 [rate2to3, '2-3'], [rate1to2, '1-2'], [noTesting, 'none'], [rate01to1, '0.1-1']]
  .forEach(([group, rate]) => group.forEach(pts => datasets.push(lineSet(pts, rate))));

const FONT = '"Liberation Sans", Arial, sans-serif';

const endMarks = {
  id: 'endMarks',
  afterDatasetsDraw(chart) {
    const ctx = chart.ctx, area = chart.chartArea;
    ctx.save();
    chart.data.datasets.forEach((ds, i) => {
      const pts = chart.getDatasetMeta(i).data;
      if (pts.length < 2) return;
      const a = pts[pts.length - 2], b = pts[pts.length - 1];
      if (b.y > area.bottom || b.y < area.top) return;
      const ang = Math.atan2(b.y - a.y, b.x - a.x);
      ctx.save();
      ctx.translate(b.x, b.y);
      ctx.rotate(ang);
      ctx.fillStyle = ds.endColor;
      ctx.beginPath();
      ctx.moveTo(2.8, 0); ctx.lineTo(-2.2, -2.2); ctx.lineTo(-2.2, 2.2);
      ctx.closePath(); ctx.fill();
      ctx.restore();
    });
    // country labels
    ctx.font = '13px ' + FONT;
    ctx.textBaseline = 'middle';
    ctx.textAlign = 'left';
    chart.data.datasets.forEach((ds, i) => {
      if (!ds.labelColor) return;
      const pts = chart.getDatasetMeta(i).data;
      const b = pts[pts.length - 1];
      const x = b.x + 4, y = b.y + (labelNudge[ds.label] || 0);
      const w = ctx.measureText(ds.label).width;
      ctx.fillStyle = 'rgba(255,255,255,0.78)';
      ctx.fillRect(x - 1, y - 7, w + 2, 14);
      ctx.fillStyle = ds.labelColor;
      ctx.fillText(ds.label, x, y);
    });
    ctx.restore();
  },
  afterDraw(chart) {
    const ctx = chart.ctx;
    ctx.save();
    ctx.fillStyle = '#333';
    ctx.textAlign = 'center';
    ctx.textBaseline = 'middle';
    ctx.font = '15px ' + FONT;
    ctx.fillText('Days since confirmed cases first reached 30 per day', 422, 522);
    ctx.translate(17, 275);
    ctx.rotate(-Math.PI / 2);
    ctx.font = '14.5px ' + FONT;
    ctx.fillText('Daily new confirmed COVID-19 cases', 0, 0);
    ctx.restore();
  }
};

new Chart(document.getElementById('chart'), {
  type: 'line',
  data: { datasets },
  plugins: [endMarks],
  options: {
    responsive: false,
    animation: false,
    layout: { padding: { top: 14, right: 140, left: 0, bottom: 0 } },
    plugins: { legend: { display: false }, tooltip: { enabled: false } },
    scales: {
      x: {
        type: 'linear',
        min: 0,
        max: 240,
        afterBuildTicks: s => { s.ticks = dayTicks.map(v => ({ value: v })); },
        afterFit: s => { s.height = 53; },
        ticks: { color: '#666', font: { family: FONT, size: 19 }, padding: 10, maxRotation: 0 },
        grid: { color: c => c.tick && c.tick.value === 0 ? 'rgba(0,0,0,0)' : '#cfcfcf', drawTicks: false, lineWidth: 1 },
        border: { display: false, dash: [4, 4] }
      },
      y: {
        type: 'logarithmic',
        min: 0.141,
        max: 91700,
        afterBuildTicks: s => { s.ticks = caseTicks.map(v => ({ value: v })); },
        afterFit: s => { s.width = 101; },
        ticks: { color: '#666', font: { family: FONT, size: 19 }, padding: 5, callback: v => Number(v).toLocaleString('en-US') },
        grid: { color: '#cfcfcf', drawTicks: false, lineWidth: 1 },
        border: { display: true, color: '#cccccc', width: 1, dash: [4, 4] }
      }
    }
  }
});
</script>
</body>
</html>
